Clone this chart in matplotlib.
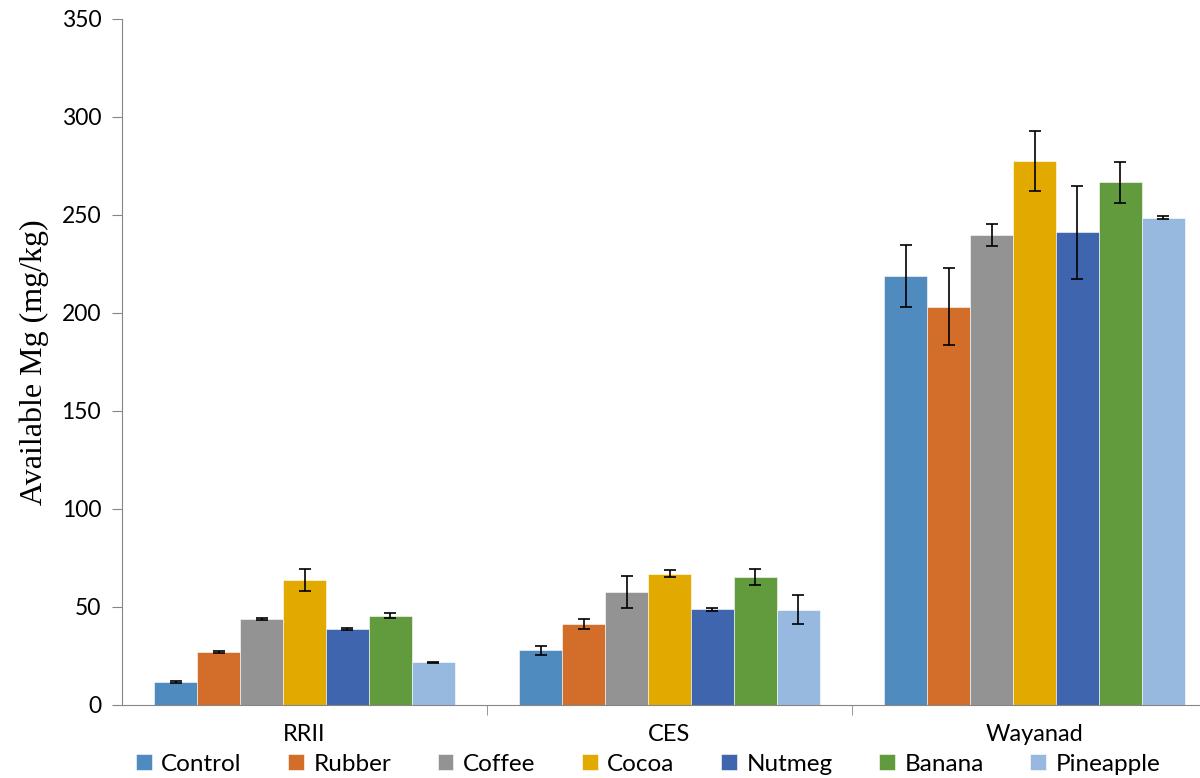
import numpy as np
import matplotlib
matplotlib.use('Agg')
import matplotlib.pyplot as plt

sites = ['RRII', 'CES', 'Wayanad']
crops = ['Control', 'Rubber', 'Coffee', 'Cocoa', 'Nutmeg', 'Banana', 'Pineapple']
colors = ['#4F8BBE', '#D26D2A', '#939393', '#E2AA00', '#3E65AD', '#629A3E', '#98B9DF']

# mean values per crop, order = sites
control = [11.6, 27.7, 218.9]
rubber = [26.9, 41.0, 203.1]
coffee = [43.7, 57.5, 239.8]
cocoa = [63.6, 66.8, 277.6]
nutmeg = [38.8, 48.7, 241.0]
banana = [45.3, 65.0, 266.6]
pineapple = [21.6, 48.5, 248.4]

# standard errors
control_err = [0.5, 2.1, 15.8]
rubber_err = [0.7, 2.6, 19.7]
coffee_err = [0.4, 8.3, 5.6]
cocoa_err = [5.7, 1.9, 15.3]
nutmeg_err = [0.5, 0.7, 23.6]
banana_err = [1.3, 4.0, 10.4]
pineapple_err = [0.3, 7.4, 0.8]

values = [control, rubber, coffee, cocoa, nutmeg, banana, pineapple]
errors = [control_err, rubber_err, coffee_err, cocoa_err, nutmeg_err, banana_err, pineapple_err]

fig = plt.figure(figsize=(12, 7.78), dpi=100)
ax = fig.add_axes([122/1200, (778-704.7)/778, 1095/1200, 686/778])

x = np.arange(len(sites))
w = 1/8.5
for i in range(len(crops)):
    ax.bar(x + (i-3)*w, values[i], w, color=colors[i], label=crops[i],
           edgecolor='white', linewidth=0.4,
           yerr=errors[i], error_kw=dict(ecolor='black', elinewidth=1.2, capsize=4.5, capthick=1.2))

ax.set_xlim(-0.5, 2.5)
ax.set_ylim(0, 350)
ax.set_yticks(range(0, 351, 50))
ax.set_xticks(x)
ax.set_xticklabels(sites, fontsize=17, family='Lato')
ax.set_xticks([0.5, 1.5, 2.5], minor=True)
ax.tick_params(axis='x', which='major', length=0, pad=14)
ax.tick_params(axis='x', which='minor', length=7, color='#868686', direction='out')
ax.tick_params(axis='y', length=7, color='#868686', direction='out', labelsize=16.5, pad=8)
for lab in ax.get_yticklabels():
    lab.set_family('Lato')

for s in ['top', 'right']:
    ax.spines[s].set_visible(False)
for s in ['left', 'bottom']:
    ax.spines[s].set_color('#868686')
ax.spines['left'].set_bounds(0, 350)

ax.set_ylabel('Available Mg (mg/kg)', fontsize=23, family='Liberation Serif', labelpad=9)

leg = fig.legend(loc='lower left', bbox_to_anchor=(0.105, -0.008, 0.87, 0.03), mode='expand',
                 ncol=7, frameon=False, handlelength=0.65, handleheight=0.65, handletextpad=0.4,
                 borderaxespad=0, prop={'family': 'Lato', 'size': 17.5})

fig.savefig('out.png', dpi=100)
